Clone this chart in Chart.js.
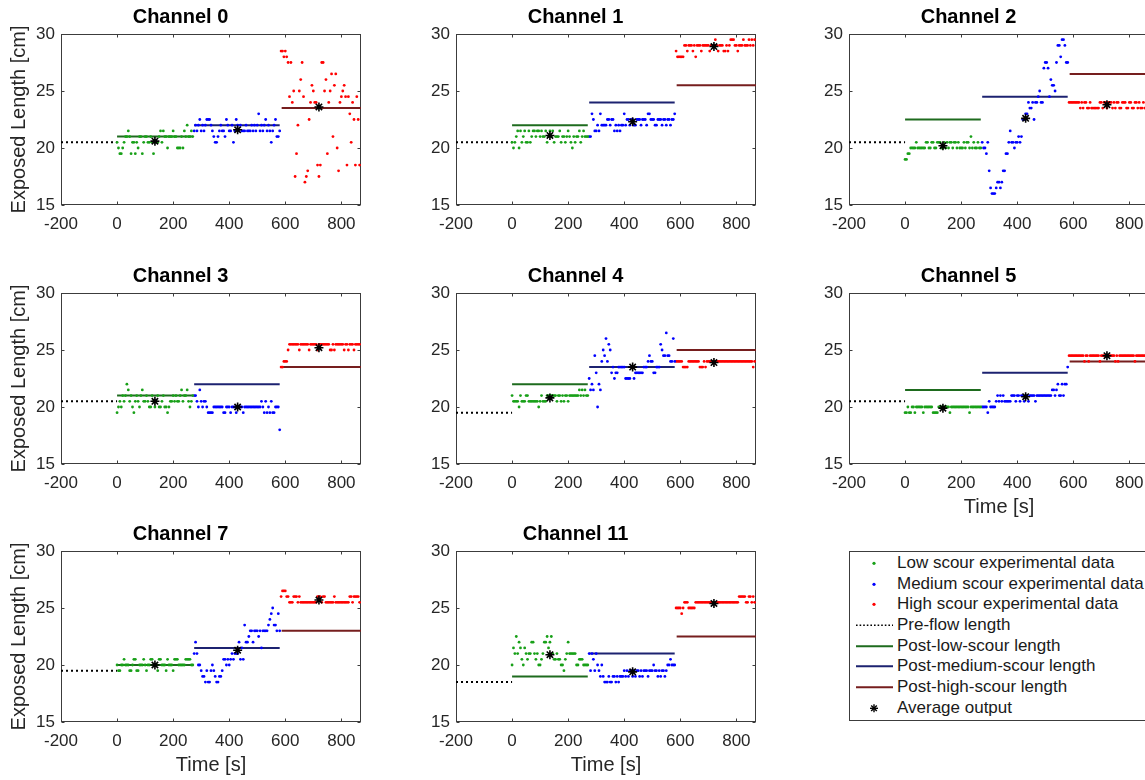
<!DOCTYPE html>
<html>
<head>
<meta charset="utf-8">
<script src="https://cdn.jsdelivr.net/npm/chart.js@4/dist/chart.umd.min.js"></script>
<style>
  body { margin: 0; background: #fff; }
  #page { position: relative; width: 1145px; height: 780px; overflow: hidden; background: #fff;
          font-family: "Liberation Sans", Arial, Helvetica, sans-serif; }
  #page canvas { position: absolute; }
  #legend { position: absolute; left: 849px; top: 551px; width: 330px; height: 170px; box-sizing: border-box;
            border: 1px solid #3c3c3c; background: #fff; padding-top: 1px; }
  .row { position: relative; height: 20.67px; line-height: 20.67px; font-size: 17px; color: #1a1a1a; white-space: nowrap; }
  .row svg { position: absolute; left: 0; top: 0; }
  .row span { position: absolute; left: 47px; top: 0; }
</style>
</head>
<body>
<div id="page"><div id="legend"></div></div>
<script>
// sample times of each scour stage [s]
const LOW_T = [0,5,10,15,20,25,30,35,40,45,
  50,55,60,65,70,75,80,85,90,95,
  100,105,110,115,120,125,130,135,140,145,
  150,155,160,165,170,175,180,185,190,195,
  200,205,210,215,220,225,230,235,240,245,
  250,255,260,265,270];
const MED_T = [275,280,285,290,295,300,305,310,315,320,
  325,330,335,340,345,350,355,360,365,370,
  375,380,385,390,395,400,405,410,415,420,
  425,430,435,440,445,450,455,460,465,470,
  475,480,485,490,495,500,505,510,515,520,
  525,530,535,540,545,550,555,560,565,570,
  575,580];
const HIGH_T = [585,590,595,600,605,610,615,620,625,630,
  635,640,645,650,655,660,665,670,675,680,
  685,690,695,700,705,710,715,720,725,730,
  735,740,745,750,755,760,765,770,775,780,
  785,790,795,800,805,810,815,820,825,830,
  835,840,845,850,855,860,865];

const CHANNELS = ['Channel 0','Channel 1','Channel 2','Channel 3','Channel 4','Channel 5','Channel 7','Channel 11'];

// experimental data [cm]
const CH0_LOW = [20.5,20,19.5,19.5,20,20.5,21,21,21.5,21,
  19.5,20.5,20.5,19.5,20.5,20,21,21,19.5,20.5,
  21,21,20.5,20.5,21,20.5,19.5,20.5,20.5,20.5,
  21,21.5,20.5,21.5,21,21,20,21,21,21,
  21.5,21,21,20,20,20,21,20,21.5,21,
  22,21,21,21.5,21];
const CH0_MED = [21.5,22,21.5,22,22.5,21.5,22,21.5,22,22.5,
  22.5,22.5,22,21.5,21,20.5,20.5,21,21.5,22,
  21.5,21.5,21,22.5,22,21.5,21.5,22,20.5,21.5,
  22.5,22,21.5,22,21.5,21.5,21.5,22,21.5,21.5,
  21.5,22,21.5,22,21.5,22,23,21.5,22,21.5,
  22,22.5,21.5,22,21.5,20.5,21.5,22,22.5,21,
  21,21.5];
const CH0_HIGH = [28.5,28.5,28,28.5,28,27.5,24.5,27.5,24,25,
  17.5,19.5,22,25,26,27.5,24.5,17,17.5,18,
  22.5,24,25.5,25,24,24,18.5,17.5,18.5,27.5,
  27.5,25,26,19.5,24,25,26.5,21,25.5,26.5,
  20,18,24,24.5,25,25.5,24.5,18.5,24.5,23,
  20.5,24,22.5,18.5,24.5,22.5,18.5];

const CH1_LOW = [20.5,20,20.5,21,21.5,20,21.5,20.5,21,21.5,
  20.5,20.5,21.5,20.5,21,21.5,21.5,21,21.5,21.5,
  21,21.5,21,21,21.5,20.5,21,21.5,21,21.5,
  20.5,21,21,21,21.5,20.5,21,21,20.5,21,
  21.5,21,20.5,20,21,20.5,21,21,21.5,20.5,
  21,21.5,21,21,21];
const CH1_MED = [21,21,23,22.5,21.5,21.5,22,21.5,23,22,
  22,22,22,22.5,22.5,22,22.5,22.5,21.5,22,
  21.5,22,21.5,22,22,23,22,22.5,22.5,22,
  22.5,22.5,22,22,22.5,22.5,22.5,22,22.5,22.5,
  22.5,22,23,23,22.5,22.5,22.5,22,22,22.5,
  22.5,22.5,22,22.5,22.5,22,22.5,22.5,22,22.5,
  22.5,23];
const CH1_HIGH = [28.5,28,28,28,28,28,29,29,28.5,29,
  29,29,28.5,29,28,29,29,29,28.5,29,
  29,29,29,29,28.5,29,29,29,29.5,29,
  28.5,29,29,29,28.5,28.5,29,28.5,29,29.5,
  29.5,29.5,29,29,28.5,29,29,29,29.5,29,
  29,29,29.5,29,29.5,29,29.5];

const CH2_LOW = [19,19,19.5,19.5,20,20,20,20,20.5,20,
  20,20,20,20,20,20.5,20.5,20,20,20.5,
  20.5,20,20,20.5,20.5,20.5,20,20,20.5,20,
  20.5,20,20.5,20.5,20,20.5,20.5,20,20.5,20,
  20,20,20.5,20,20.5,20.5,20,21,20,20.5,
  20,20,20.5,20,20];
const CH2_MED = [20.5,20,20,19.5,20.5,18,16.5,16,16,16,
  16.5,17,17,16.5,17,18,18,19.5,19.5,20.5,
  21.5,20.5,20.5,20,20.5,20.5,21,20.5,21,22.5,
  22.5,23,23,24,23.5,23.5,24,22.5,24,24,
  24.5,25,24,24,27,27.5,27.5,27,24.5,26,
  25.5,25.5,25,27.5,29,29,28,29.5,29.5,29,
  27.5,27.5];
const CH2_HIGH = [24,24,24,24,24,24,24,24,23.5,24,
  23.5,24,24,23.5,23.5,24,23.5,23.5,23.5,23.5,
  23.5,23.5,24,24,23.5,24,24,23.5,24,24,
  24,23.5,24,23.5,24,24,23.5,23.5,24,24,
  24,23.5,23.5,24,24,23.5,23.5,24,24,23.5,
  24,23.5,23.5,24,23.5,24,24];

const CH3_LOW = [19.5,20,20.5,20,21,20.5,21,22,21.5,20.5,
  21,20,19.5,20.5,21,20.5,20,21,21.5,20.5,
  20.5,21,20.5,20,20,21,20.5,20,20.5,21,
  20,20,20.5,21,20,20,19.5,20,20.5,20.5,
  21,20.5,21,20.5,20.5,21,21.5,20.5,21,21,
  21.5,20.5,20,20.5,21];
const CH3_MED = [21,21,20.5,20,21.5,20.5,20,20.5,20.5,20,
  19.5,19.5,19.5,19.5,20,20,20,20,20,20,
  20,19.5,19.5,20,20,20,19.5,20,20,20,
  19.5,20,20,20,20,19.5,20,20,20,20,
  20,20,20,20,20,20,20,20,20.5,20,
  19.5,20.5,19.5,20,19.5,20.5,19.5,19.5,20,20,
  20,18];
const CH3_HIGH = [23.5,23.5,24,24,24,25,25.5,25.5,25.5,25.5,
  25.5,25.5,25.5,25,25.5,25.5,25.5,25.5,25.5,25.5,
  25,25.5,25.5,25.5,25.5,25.5,25,25.5,25.5,25.5,
  25.5,25.5,25.5,25.5,25.5,25,25,25.5,25,25.5,
  25.5,25.5,25.5,25.5,25.5,25,25.5,25.5,25,25.5,
  25.5,25.5,25,25.5,25.5,25.5,25.5];

const CH4_LOW = [21,20.5,20.5,20.5,20.5,20,21,20.5,20.5,20.5,
  21,21,20.5,20.5,20.5,20.5,20.5,20.5,20.5,20,
  20.5,21,20.5,20.5,20.5,21,21,21,21,21,
  21,21,20.5,21,21,20.5,21,20.5,21,21,
  20.5,21,21,21,21,21,21,21,21.5,21,
  21.5,21,21.5,21,21];
const CH4_MED = [22.5,21.5,22,21.5,24.5,23,20,22,21.5,24,
  25,24.5,26,24,25.5,25,23,23.5,22.5,23,
  23,23.5,23.5,23.5,23.5,23.5,22.5,22.5,22.5,22.5,
  23.5,23.5,22.5,23,23,23,23,23,23,23.5,
  23.5,23.5,24,24.5,24,24,23,23,23.5,23.5,
  23.5,25.5,25,24.5,24.5,26.5,24.5,24.5,24,24,
  26,24];
const CH4_HIGH = [24,24,24,24,24,23.5,23.5,23.5,23.5,24,
  24,24,24,24,24,24,24,23.5,23.5,23.5,
  24,23.5,24,24,24,24,24,24,24,24,
  24,24,24,24,24,24,24,24,24,24,
  24,24,24,24,24,24,24,24,24,24,
  24,24,24,24,24,23.5,24];

const CH5_LOW = [19.5,19.5,20,19.5,19.5,20,20,19.5,20,20,
  20,20,20,19.5,20,20,20,20,20,20,
  19.5,19.5,19.5,19.5,20,20,20,20,20,20,
  20,20,19.5,20,20,20,20,20,20,20,
  20,20,20,20,20,20,19.5,20,20,20,
  20,20,20,20,20];
const CH5_MED = [20,20,20,20,19.5,20.5,20,20,20,20,
  20.5,21,20.5,21,20.5,21,20.5,20.5,20.5,20.5,
  20.5,21,21,21,20.5,21,21,20.5,21,21,
  20.5,21,21,20.5,21,21,21,21,20.5,21,
  21,21,21,21,21,21,21,21,21,21,
  21.5,21.5,21,21.5,22,21,21,22,21,22,
  22,23.5];
const CH5_HIGH = [24.5,24.5,24.5,24.5,24.5,24.5,24.5,24.5,24.5,24.5,
  24.5,24,24.5,24.5,24,24.5,24.5,24.5,24.5,24.5,
  24.5,24.5,24,24.5,24.5,24.5,24.5,24.5,24.5,24.5,
  24.5,24.5,24.5,24,24.5,24,24.5,24.5,24.5,24.5,
  24.5,24.5,24.5,24.5,24.5,24.5,24.5,24,24.5,24.5,
  24.5,24.5,24.5,24.5,24.5,24.5,24.5];

const CH7_LOW = [20,19.5,19.5,20,20,20.5,20,20,20,19.5,
  19.5,20,20.5,20.5,19.5,19.5,20,20,20,20.5,
  20,19.5,20,20,20.5,20.5,20,20,20,19.5,
  20.5,20.5,20,20,20,19.5,20.5,20,20,20,
  19.5,20.5,20.5,20.5,20,20,20,20,20,20.5,
  20.5,20.5,20.5,20,20];
const CH7_MED = [21,22,21,20,20,19.5,19,19,18.5,19.5,
  18.5,18.5,19.5,20,19.5,19,18.5,18.5,19,19,
  19.5,20.5,20.5,20,20.5,20,20.5,21,20.5,21,
  21,21,22,20.5,21.5,20.5,23.5,22,22,22.5,
  23,23,22,23,23,23,22.5,23,21.5,23,
  23,23,23,23.5,24,24.5,25,23.5,23.5,23,
  24.5,23];
const CH7_HIGH = [26,26.5,26.5,26.5,26,26,25.5,25.5,25.5,26,
  26,26,25.5,26,25.5,25.5,25.5,25.5,25.5,25.5,
  25.5,25.5,25.5,25.5,25.5,25.5,26,26,26,25.5,
  26,26,25.5,25.5,25.5,25.5,25.5,25.5,26,25.5,
  25.5,25.5,25.5,25.5,25.5,25.5,25.5,25.5,25.5,26,
  26,25.5,26,26,26,26,25.5];

const CH11_LOW = [20,21.5,21,22.5,21,22,21.5,20.5,20,21.5,
  21,20.5,21,21,22,22,21,20.5,21,20,
  20,20.5,21,22,22,22.5,21.5,22,22.5,21,
  20.5,20.5,21,20.5,20.5,20,20,19.5,20.5,21,
  22,21,21,21,21,21,20,20,20.5,20.5,
  20.5,20,20,20,20];
const CH11_MED = [21,19.5,21,20.5,19.5,21,20,19.5,19,20,
  19,18.5,18.5,18.5,19,18.5,18.5,19,19,18.5,
  19,18.5,19,19,19,19.5,19,19.5,19,19.5,
  19.5,19,19.5,19,19.5,19.5,19,19.5,19,19.5,
  19.5,19.5,19,19.5,19.5,19.5,20,19.5,19.5,19,
  19.5,19,19.5,19.5,19,19.5,20,20,20.5,20,
  20,20];
const CH11_HIGH = [25,25,25,25,24.5,25,25.5,25.5,25.5,25,
  25,25,25,25,25.5,25.5,25.5,25.5,25.5,25.5,
  25.5,25.5,25.5,25.5,25.5,25.5,25.5,25.5,25.5,25.5,
  25.5,25.5,25.5,25.5,25.5,25.5,25.5,25.5,25.5,25.5,
  25.5,25.5,25.5,25.5,25.5,26,26,26,26,26,
  25.5,25.5,26,26,25.5,26,25.5];

// reference lengths and averages, one value per channel [cm]
const PRE_FLOW  = [20.5, 20.5, 20.5, 20.5, 19.5, 20.5, 19.5, 18.5];
const POST_LOW  = [21, 22, 22.5, 21, 22, 21.5, 20, 19];
const POST_MED  = [22, 24, 24.5, 22, 23.5, 23, 21.5, 21];
const POST_HIGH = [23.5, 25.5, 26.5, 23.5, 25, 24, 23, 22.5];
const AVG_LOW   = [20.6, 21.1, 20.2, 20.5, 20.8, 19.9, 20.0, 20.9];
const AVG_MED   = [21.6, 22.3, 22.6, 20.0, 23.5, 20.9, 21.3, 19.4];
const AVG_HIGH  = [23.6, 28.9, 23.8, 25.2, 23.9, 24.5, 25.7, 25.4];
const AVG_TIMES = [135, 430, 720];

// stage spans [s]
const PRE_SPAN  = [-200, 0];
const LOW_SPAN  = [0, 270];
const MED_SPAN  = [275, 580];
const HIGH_SPAN = [587, 870];

const X_TICKS = [-200, 0, 200, 400, 600, 800];
const Y_TICKS = [15, 20, 25, 30];

const LEGEND_LABELS = ['Low scour experimental data', 'Medium scour experimental data', 'High scour experimental data',
  'Pre-flow length', 'Post-low-scour length', 'Post-medium-scour length', 'Post-high-scour length', 'Average output'];

const CH_LOW  = [CH0_LOW, CH1_LOW, CH2_LOW, CH3_LOW, CH4_LOW, CH5_LOW, CH7_LOW, CH11_LOW];
const CH_MED  = [CH0_MED, CH1_MED, CH2_MED, CH3_MED, CH4_MED, CH5_MED, CH7_MED, CH11_MED];
const CH_HIGH = [CH0_HIGH, CH1_HIGH, CH2_HIGH, CH3_HIGH, CH4_HIGH, CH5_HIGH, CH7_HIGH, CH11_HIGH];

// colours
const GREEN = 'rgb(24,160,24)', BLUE = '#0000ff', RED = '#ff0000';
const DK_GREEN = '#1e6b1e', NAVY = '#1c2270', DK_RED = '#761e1e';

// layout: subplot grid (col, row) and which axes carry labels
const PLOT_LEFTS = [61, 456, 849];
const PLOT_TOPS = [34, 293, 551];
const PLOT_W = 300, PLOT_H = 171;
const PAD_L = 61, PAD_T = 34, PAD_R = 15, PAD_B = 56;
const GRID = [[0,0],[1,0],[2,0],[0,1],[1,1],[2,1],[0,2],[1,2]];
const SHOW_XTITLE = [false,false,false,false,false,true,true,true];
const SHOW_YTITLE = [true,false,false,true,false,false,true,false];

Chart.defaults.font.family = '"Liberation Sans", Arial, Helvetica, sans-serif';
Chart.defaults.color = '#262626';

function zip(ts, ys) {
  const n = Math.min(ts.length, ys.length);
  const out = [];
  for (let i = 0; i < n; i++) out.push({x: ts[i], y: ys[i]});
  return out;
}
function flat(span, v) {
  return [{x: span[0], y: v}, {x: span[1], y: v}];
}

// matlab-like box with inward ticks on all four sides
const boxPlugin = {
  id: 'box',
  beforeDatasetsDraw(chart) {
    const {ctx, chartArea: a, scales: {x, y}} = chart;
    const L = Math.round(a.left) + 0.5, R = Math.round(a.right) - 0.5;
    const T = Math.round(a.top) + 0.5, B = Math.round(a.bottom) - 0.5;
    ctx.save();
    ctx.strokeStyle = '#3c3c3c';
    ctx.lineWidth = 1;
    ctx.strokeRect(L, T, R - L, B - T);
    ctx.beginPath();
    X_TICKS.forEach(v => {
      const px = Math.round(x.getPixelForValue(v)) + 0.5;
      ctx.moveTo(px, B); ctx.lineTo(px, B - 3);
      ctx.moveTo(px, T); ctx.lineTo(px, T + 3);
    });
    Y_TICKS.forEach(v => {
      const py = Math.round(y.getPixelForValue(v)) + 0.5;
      ctx.moveTo(L, py); ctx.lineTo(L + 3, py);
      ctx.moveTo(R, py); ctx.lineTo(R - 3, py);
    });
    ctx.stroke();
    ctx.restore();
  }
};

const page = document.getElementById('page');

CHANNELS.forEach((name, i) => {
  const [col, row] = GRID[i];
  const canvas = document.createElement('canvas');
  canvas.width = PAD_L + PLOT_W + PAD_R;
  canvas.height = PAD_T + PLOT_H + PAD_B;
  canvas.style.left = (PLOT_LEFTS[col] - PAD_L) + 'px';
  canvas.style.top = (PLOT_TOPS[row] - PAD_T) + 'px';
  page.appendChild(canvas);

  const avg = [AVG_LOW[i], AVG_MED[i], AVG_HIGH[i]];

  new Chart(canvas, {
    type: 'scatter',
    data: {
      datasets: [
        { label: 'Average output', data: zip(AVG_TIMES, avg), pointStyle: 'star', pointRadius: 4.5,
          borderColor: '#000', backgroundColor: '#000', borderWidth: 1.6, order: 0 },
        { label: 'Low scour experimental data', data: zip(LOW_T, CH_LOW[i]), backgroundColor: GREEN,
          pointRadius: 1.4, borderWidth: 0, order: 1 },
        { label: 'Medium scour experimental data', data: zip(MED_T, CH_MED[i]), backgroundColor: BLUE,
          pointRadius: 1.4, borderWidth: 0, order: 1 },
        { label: 'High scour experimental data', data: zip(HIGH_T, CH_HIGH[i]), backgroundColor: RED,
          pointRadius: 1.4, borderWidth: 0, order: 1 },
        { label: 'Pre-flow length', data: flat(PRE_SPAN, PRE_FLOW[i]), showLine: true, borderColor: '#000',
          borderWidth: 2, borderDash: [2, 3], pointRadius: 0, order: 2 },
        { label: 'Post-low-scour length', data: flat(LOW_SPAN, POST_LOW[i]), showLine: true, borderColor: DK_GREEN,
          borderWidth: 2, pointRadius: 0, order: 2 },
        { label: 'Post-medium-scour length', data: flat(MED_SPAN, POST_MED[i]), showLine: true, borderColor: NAVY,
          borderWidth: 2, pointRadius: 0, order: 2 },
        { label: 'Post-high-scour length', data: flat(HIGH_SPAN, POST_HIGH[i]), showLine: true, borderColor: DK_RED,
          borderWidth: 2, pointRadius: 0, order: 2 }
      ]
    },
    options: {
      responsive: false,
      animation: false,
      devicePixelRatio: 1,
      events: [],
      layout: { padding: { left: 0, top: 0, right: PAD_R, bottom: 0 } },
      plugins: {
        legend: { display: false },
        tooltip: { enabled: false },
        title: { display: true, text: name, color: '#000', font: { size: 20, weight: 'bold' },
                 padding: { top: 5, bottom: 5 } }
      },
      scales: {
        x: {
          type: 'linear', min: -200, max: 870,
          afterFit: s => { s.height = PAD_B; },
          afterBuildTicks: s => { s.ticks = X_TICKS.map(v => ({value: v})); },
          ticks: { color: '#262626', font: { size: 17 }, padding: 9, maxRotation: 0, autoSkip: false },
          grid: { display: false, drawTicks: false },
          border: { display: false },
          title: { display: SHOW_XTITLE[i], text: 'Time [s]', color: '#262626', font: { size: 20 },
                   padding: { top: 0, bottom: 1 } }
        },
        y: {
          type: 'linear', min: 15, max: 30,
          afterFit: s => { s.width = PAD_L; },
          afterBuildTicks: s => { s.ticks = Y_TICKS.map(v => ({value: v})); },
          ticks: { color: '#262626', font: { size: 17 }, padding: 6 },
          grid: { display: false, drawTicks: false },
          border: { display: false },
          title: { display: SHOW_YTITLE[i], text: 'Exposed Length [cm]', color: '#262626', font: { size: 20 },
                   padding: { top: 7, bottom: 0 } }
        }
      }
    },
    plugins: [boxPlugin]
  });
});

// legend
const SYMBOLS = [
  '<circle cx="24" cy="10.3" r="1.6" fill="' + GREEN + '"/>',
  '<circle cx="24" cy="10.3" r="1.6" fill="' + BLUE + '"/>',
  '<circle cx="24" cy="10.3" r="1.6" fill="' + RED + '"/>',
  '<line x1="6" y1="10.3" x2="43" y2="10.3" stroke="#000" stroke-width="1.6" stroke-dasharray="1.6 2"/>',
  '<line x1="6" y1="10.3" x2="43" y2="10.3" stroke="' + DK_GREEN + '" stroke-width="2"/>',
  '<line x1="6" y1="10.3" x2="43" y2="10.3" stroke="' + NAVY + '" stroke-width="2"/>',
  '<line x1="6" y1="10.3" x2="43" y2="10.3" stroke="' + DK_RED + '" stroke-width="2"/>',
  '<g stroke="#000" stroke-width="1.4"><line x1="24" y1="6.3" x2="24" y2="14.3"/><line x1="20" y1="10.3" x2="28" y2="10.3"/>' +
    '<line x1="21.2" y1="7.5" x2="26.8" y2="13.1"/><line x1="21.2" y1="13.1" x2="26.8" y2="7.5"/></g>'
];
const legend = document.getElementById('legend');
LEGEND_LABELS.forEach((label, k) => {
  const row = document.createElement('div');
  row.className = 'row';
  row.innerHTML = '<svg width="47" height="21">' + SYMBOLS[k] + '</svg><span></span>';
  row.querySelector('span').textContent = label;
  legend.appendChild(row);
});
</script>
</body>
